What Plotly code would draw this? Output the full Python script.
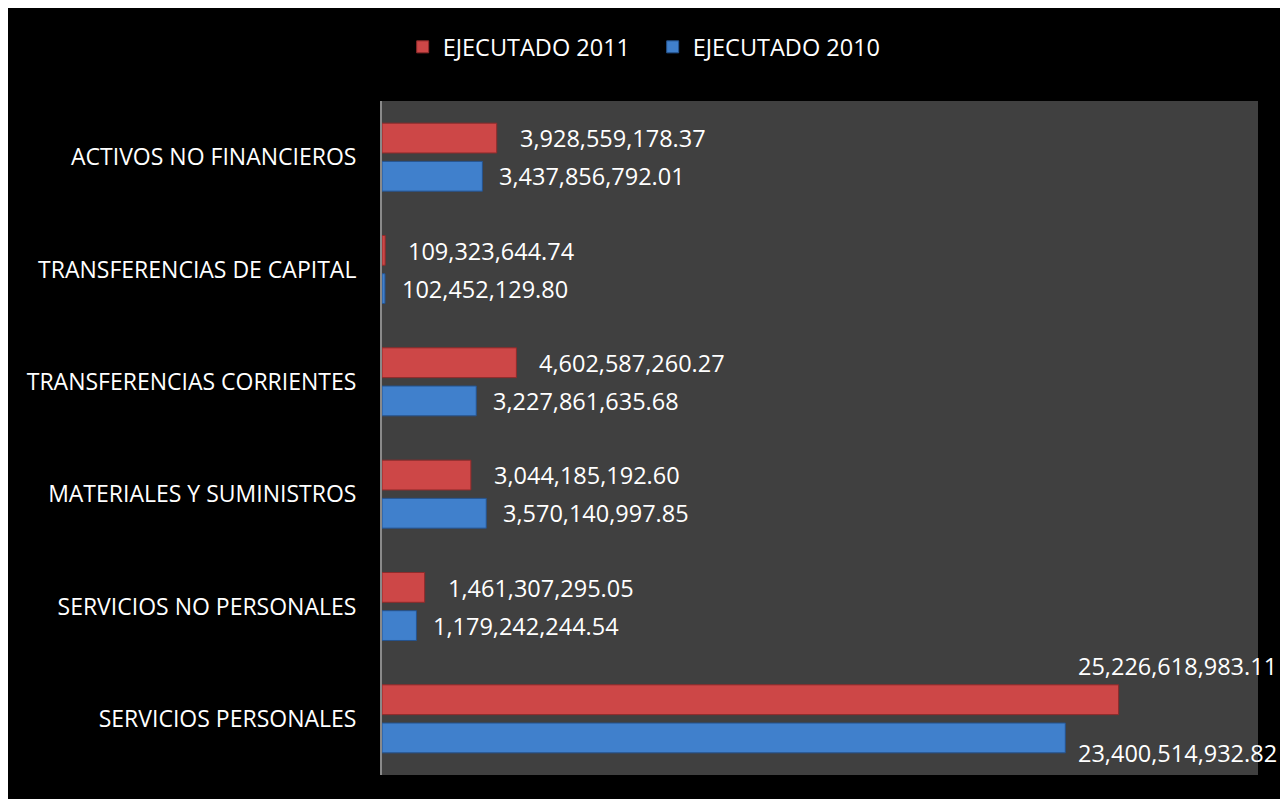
import plotly.graph_objects as go

categories = [
    "SERVICIOS PERSONALES",
    "SERVICIOS NO PERSONALES",
    "MATERIALES Y SUMINISTROS",
    "TRANSFERENCIAS CORRIENTES",
    "TRANSFERENCIAS DE CAPITAL",
    "ACTIVOS NO FINANCIEROS",
]
ejecutado_2010 = [23400514932.82, 1179242244.54, 3570140997.85,
                  3227861635.68, 102452129.80, 3437856792.01]
ejecutado_2011 = [25226618983.11, 1461307295.05, 3044185192.60,
                  4602587260.27, 109323644.74, 3928559178.37]
series_names = ["EJECUTADO 2010", "EJECUTADO 2011"]

FONT = "Open Sans"
RED = "#CD4747"
RED_LINE = "#8E2B2B"
BLUE = "#4080CC"
BLUE_LINE = "#25538E"

fig = go.Figure()
fig.add_trace(go.Bar(
    y=categories, x=ejecutado_2010, orientation="h", name=series_names[0],
    marker=dict(color=BLUE, line=dict(color=BLUE_LINE, width=1)),
    hoverinfo="x+y",
))
fig.add_trace(go.Bar(
    y=categories, x=ejecutado_2011, orientation="h", name=series_names[1],
    marker=dict(color=RED, line=dict(color=RED_LINE, width=1)),
    hoverinfo="x+y",
))

annotations = []
max_val = max(ejecutado_2011 + ejecutado_2010)
for cat, v10, v11 in zip(categories, ejecutado_2010, ejecutado_2011):
    big = max(v10, v11) > 0.7 * max_val
    if big:
        # labels placed above (2011) and below (2010) the long bars
        annotations.append(dict(x=v11, y=cat, text=f"{v11:,.2f}", xanchor="left",
                                yanchor="middle", xshift=-43, yshift=53,
                                showarrow=False))
        annotations.append(dict(x=v10, y=cat, text=f"{v10:,.2f}", xanchor="left",
                                yanchor="middle", xshift=11, yshift=-34,
                                showarrow=False))
    else:
        annotations.append(dict(x=v11, y=cat, text=f"{v11:,.2f}", xanchor="left",
                                yanchor="middle", xshift=21, yshift=19,
                                showarrow=False))
        annotations.append(dict(x=v10, y=cat, text=f"{v10:,.2f}", xanchor="left",
                                yanchor="middle", xshift=15, yshift=-19,
                                showarrow=False))

fig.update_layout(
    width=1280, height=791,
    margin=dict(l=374, r=30, t=93, b=24),
    paper_bgcolor="black",
    plot_bgcolor="#404040",
    font=dict(family=FONT, size=23, color="white"),
    barmode="group",
    bargap=0.32,
    bargroupgap=0.22,
    showlegend=True,
    legend=dict(orientation="h", traceorder="reversed",
                entrywidth=205, entrywidthmode="pixels",
                x=0.309, xanchor="center", y=1.08, yanchor="middle",
                font=dict(family=FONT, size=23.5, color="white"),
                bgcolor="rgba(0,0,0,0)", itemclick=False),
    xaxis=dict(range=[0, 30e9], showticklabels=False, showgrid=False,
               zeroline=False, showline=False, fixedrange=True),
    yaxis=dict(showline=True, linecolor="#8A8A8A", linewidth=2,
               showgrid=False, zeroline=False, ticks="",
               ticklabelstandoff=19,
               tickfont=dict(family=FONT, size=23, color="white"),
               fixedrange=True),
    annotations=[dict(a, font=dict(family=FONT, size=23.5, color="white"))
                 for a in annotations],
)

fig.write_html("out.html")
